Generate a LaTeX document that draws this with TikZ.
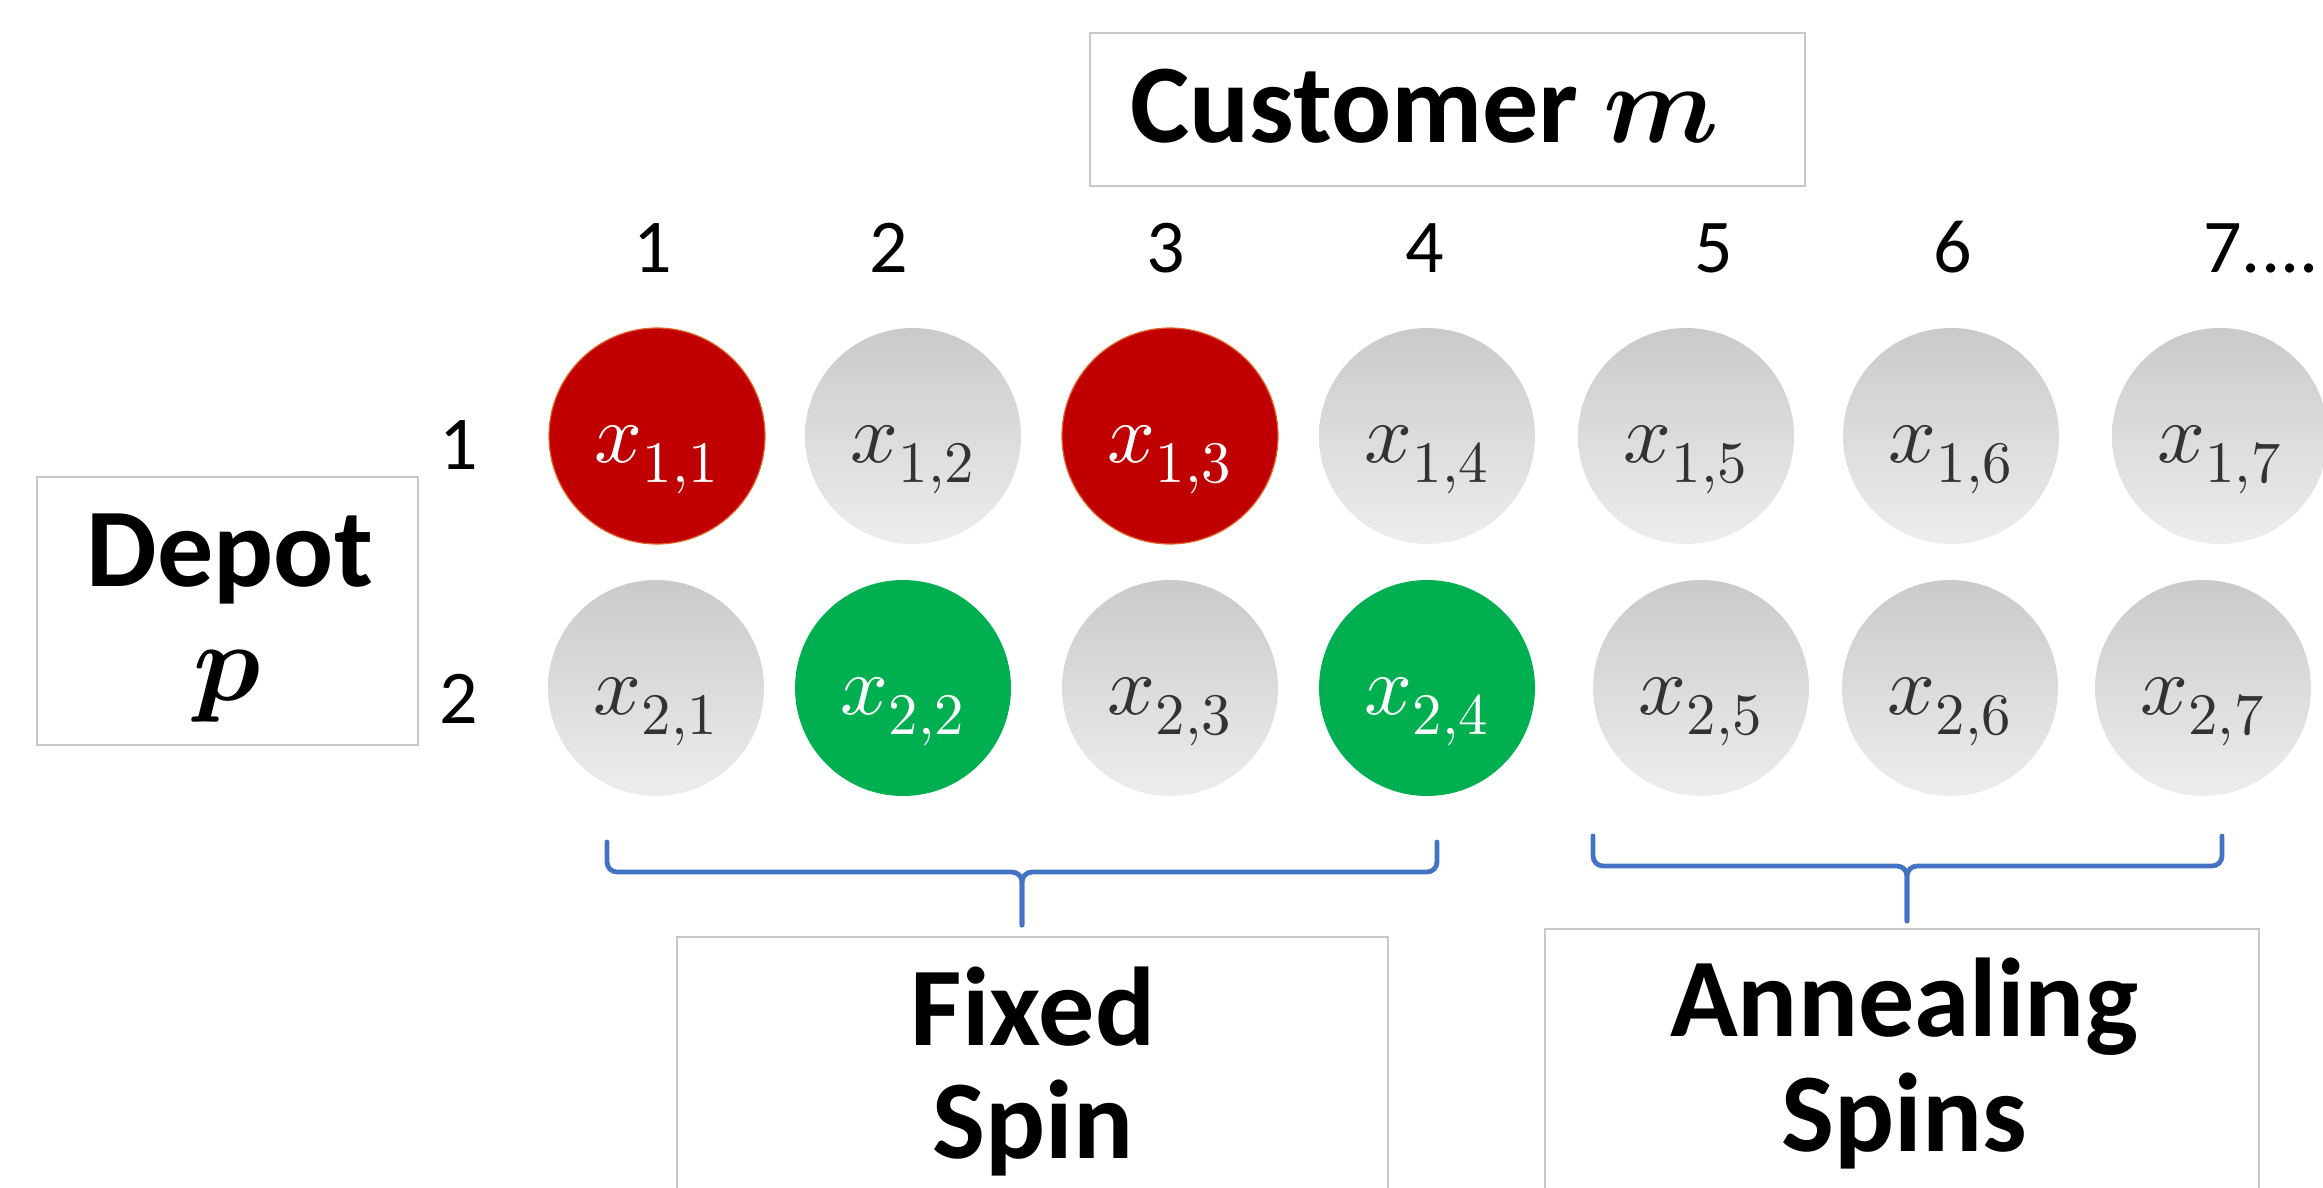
\documentclass[tikz,border=0pt]{standalone}
\usepackage{fontspec}
\usepackage{unicode-math}
\setmainfont{Carlito}
\setmathfont{Latin Modern Math}
\definecolor{spintop}{HTML}{CACACA}
\definecolor{spinbot}{HTML}{EDEDED}
\definecolor{spintext}{HTML}{333333}
\definecolor{spinred}{HTML}{C00000}
\definecolor{spinrim}{HTML}{E2642A}
\definecolor{spingreen}{HTML}{00B050}
\definecolor{boxgray}{HTML}{C8C8C8}
\definecolor{braceblue}{HTML}{4472C4}
\tikzset{
  spin/.style={circle, minimum size=108pt, inner sep=0pt, text height=28pt, text depth=2pt, font=\fontsize{42}{42}\selectfont},
  offspin/.style={spin, top color=spintop, bottom color=spinbot, text=spintext},
  redspin/.style={spin, fill=spinred, draw=spinrim, line width=0.6pt, text=white},
  greenspin/.style={spin, fill=spingreen, text=white},
  labelbox/.style={draw=boxgray, line width=1pt, inner sep=0pt},
  bigtext/.style={font=\fontsize{56}{60}\selectfont\bfseries, anchor=base, inner sep=0pt},
  numtext/.style={font=\fontsize{38}{40}\selectfont, anchor=base, inner sep=0pt},
  bracket/.style={draw=braceblue, line width=2.4pt, rounded corners=5pt, line cap=round},
}
\begin{document}
\begin{tikzpicture}[x=0.5pt,y=-0.5pt]
\useasboundingbox (0,0) rectangle (2323,1188);
\clip (0,0) rectangle (2323,1188);
\fill[white] (0,0) rectangle (2323,1188);

% label boxes
\draw[labelbox] (1090,33) rectangle (1805,186);
\draw[labelbox] (37,477) rectangle (418,745);
\draw[labelbox] (677,937) rectangle (1388,1210);
\draw[labelbox] (1545,929) rectangle (2259,1210);

\node[bigtext, anchor=base west] (cust) at (1130,142) {Customer $\symbfit{m}$};
\node[bigtext] (depot) at (230,586) {Depot};
\node[bigtext] (depotp) at (228,700) {$\symbfit{p}$};
\node[bigtext] (fixed1) at (1033,1045) {Fixed};
\node[bigtext] (fixed2) at (1033,1158) {Spin};
\node[bigtext] (ann1) at (1904,1036) {Annealing};
\node[bigtext] (ann2) at (1904,1151) {Spins};

% column numbers
\node[numtext] (c1) at (653,272) {1};
\node[numtext] (c2) at (889,272) {2};
\node[numtext] (c3) at (1166,272) {3};
\node[numtext] (c4) at (1425,272) {4};
\node[numtext] (c5) at (1714,272) {5};
\node[numtext] (c6) at (1953,272) {6};
\node[numtext, anchor=base west] (c7) at (2203,272) {7....};
% row numbers
\node[numtext] (r1) at (459,469) {1};
\node[numtext] (r2) at (459,723) {2};

% spins row 1
\node[redspin]   (x11) at (657,436)  {$x_{1,1}$};
\node[offspin]   (x12) at (913,436)  {$x_{1,2}$};
\node[redspin]   (x13) at (1170,436) {$x_{1,3}$};
\node[offspin]   (x14) at (1427,436) {$x_{1,4}$};
\node[offspin]   (x15) at (1686,436) {$x_{1,5}$};
\node[offspin]   (x16) at (1951,436) {$x_{1,6}$};
\node[offspin]   (x17) at (2220,436) {$x_{1,7}$};
% spins row 2
\node[offspin]   (x21) at (656,688)  {$x_{2,1}$};
\node[greenspin] (x22) at (903,688)  {$x_{2,2}$};
\node[offspin]   (x23) at (1170,688) {$x_{2,3}$};
\node[greenspin] (x24) at (1427,688) {$x_{2,4}$};
\node[offspin]   (x25) at (1701,688) {$x_{2,5}$};
\node[offspin]   (x26) at (1950,688) {$x_{2,6}$};
\node[offspin]   (x27) at (2203,688) {$x_{2,7}$};

% brackets
\coordinate (fl) at (607,842);
\coordinate (fr) at (1437,842);
\coordinate (fm) at (1022,872);
\coordinate (ft) at (1022,925);
\draw[bracket] (fl) |- (fm) -- (ft);
\draw[bracket] (fr) |- (fm) -- (ft);
\coordinate (al) at (1593,836);
\coordinate (ar) at (2222,836);
\coordinate (am) at (1907,866);
\coordinate (at2) at (1907,921);
\draw[bracket] (al) |- (am) -- (at2);
\draw[bracket] (ar) |- (am) -- (at2);
\end{tikzpicture}
\end{document}
